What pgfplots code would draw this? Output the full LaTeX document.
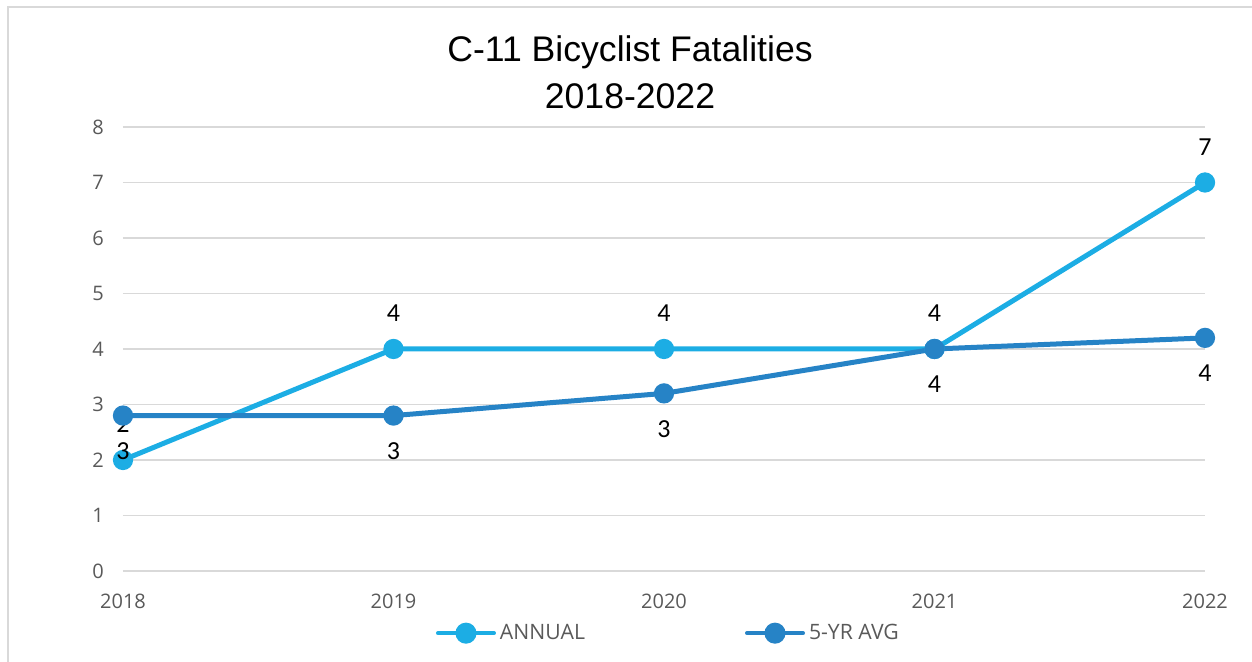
\documentclass[border=0pt]{standalone}
\usepackage{pgfplots}
\pgfplotsset{compat=1.18}
\usepackage{fontspec}
\setmainfont{Open Sans}
\newfontfamily\titlefont{Liberation Sans}
\newfontfamily\labelfont{Carlito}
\definecolor{annual}{HTML}{1CADE4}
\definecolor{avg}{HTML}{2683C6}
\definecolor{gridc}{HTML}{D9D9D9}
\definecolor{tickc}{HTML}{595959}
\begin{document}
\begin{tikzpicture}[x=1pt,y=1pt]
\useasboundingbox (0,0) rectangle (626,331);
\draw[gridc, line width=0.8pt] (4,0) -- (4,327.5) -- (626,327.5);
\node[font=\titlefont\fontsize{17.8}{23.5}\selectfont, align=center] at (315,295) {C-11 Bicyclist Fatalities\\2018-2022};
\begin{axis}[
  at={(61.5pt,45.5pt)}, anchor=origin,
  scale only axis, width=541pt, height=222pt,
  xmin=0, xmax=4, ymin=0, ymax=8,
  xtick={0,1,2,3,4}, xticklabels={2018,2019,2020,2021,2022},
  ytick={0,1,2,3,4,5,6,7,8},
  ymajorgrids, grid style={gridc, line width=0.8pt},
  axis line style={draw=none}, major tick length=0pt,
  tick label style={font=\fontsize{10}{12}\selectfont, text=tickc},
  /pgf/number format/assume math mode=true,
  xticklabel style={yshift=-8pt},
  yticklabel style={xshift=-6pt},
  clip=false,
  point meta=explicit symbolic,
  nodes near coords,
  every node near coord/.append style={font=\labelfont\fontsize{13}{15}\selectfont, text=black},
  legend columns=2,
  legend style={at={(0.505,-0.14)}, anchor=center, draw=none, fill=none,
    font=\fontsize{10.6}{12}\selectfont, text=tickc,
    /tikz/every even column/.append style={column sep=78pt},
    inner sep=0pt},
  legend image code/.code={
    \draw[#1, line width=2pt, line cap=round] (0pt,0pt) -- (28pt,0pt);
    \fill[#1] (14pt,0pt) circle (4pt);
  },
]
\addplot[annual, line width=2.5pt, mark=*, mark size=3.8pt, mark options={solid},
  every node near coord/.append style={anchor=south, yshift=9pt}]
  coordinates {(0,2) [2] (1,4) [4] (2,4) [4] (3,4) [4] (4,7) [7]};
\addlegendentry{ANNUAL}
\addplot[avg, line width=2.5pt, mark=*, mark size=3.8pt, mark options={solid},
  every node near coord/.append style={anchor=north, yshift=-9pt}]
  coordinates {(0,2.8) [3] (1,2.8) [3] (2,3.2) [3] (3,4.0) [4] (4,4.2) [4]};
\addlegendentry{5-YR AVG}
\end{axis}
\end{tikzpicture}
\end{document}
